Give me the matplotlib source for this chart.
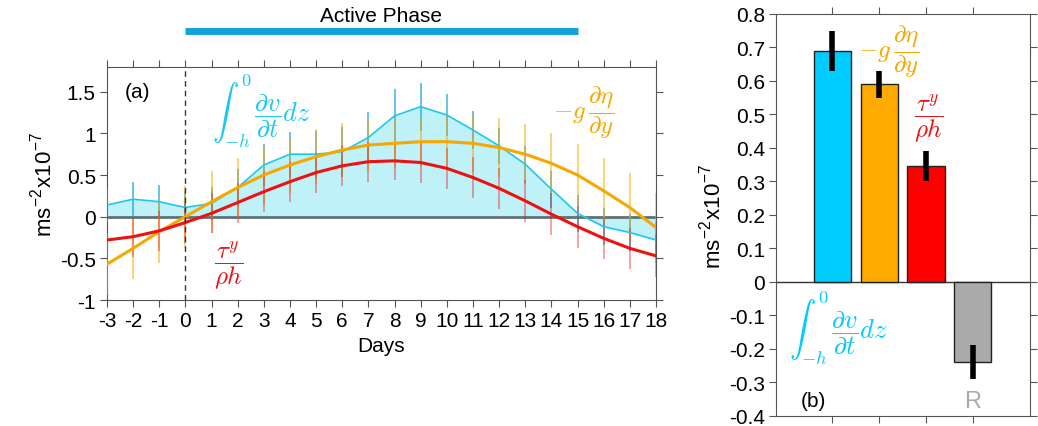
import matplotlib
matplotlib.use("Agg")
import matplotlib.pyplot as plt
import numpy as np

plt.rcParams['font.family'] = ['Liberation Sans', 'DejaVu Sans']
plt.rcParams['mathtext.fontset'] = 'cm'

days = list(range(-3, 19))
dvdt = [0.14, 0.21, 0.18, 0.11, 0.16, 0.35, 0.62, 0.75, 0.75, 0.78, 0.95, 1.21, 1.32, 1.22,
        1.04, 0.85, 0.63, 0.33, 0.04, -0.12, -0.19, -0.28]
dvdt_err = [0.2, 0.21, 0.2, 0.2, 0.2, 0.22, 0.25, 0.27, 0.28, 0.3, 0.31, 0.32, 0.29, 0.25,
            0.23, 0.22, 0.22, 0.22, 0.22, 0.22, 0.22, 0.22]
pgrad = [-0.57, -0.38, -0.18, 0.0, 0.18, 0.35, 0.50, 0.62, 0.72, 0.80, 0.86, 0.88, 0.90, 0.90,
         0.88, 0.83, 0.75, 0.64, 0.50, 0.31, 0.11, -0.13]
pgrad_err = [0.37, 0.37, 0.37, 0.37, 0.37, 0.36, 0.36, 0.34, 0.33, 0.32, 0.3, 0.3, 0.3, 0.32,
             0.34, 0.35, 0.36, 0.36, 0.37, 0.40, 0.41, 0.42]
wind = [-0.28, -0.24, -0.17, -0.07, 0.04, 0.17, 0.30, 0.42, 0.53, 0.61, 0.66, 0.67, 0.65, 0.58,
        0.47, 0.34, 0.19, 0.03, -0.12, -0.26, -0.38, -0.47]
wind_err = [0.24, 0.24, 0.24, 0.24, 0.24, 0.24, 0.24, 0.24, 0.24, 0.24, 0.24, 0.23, 0.25, 0.25,
            0.25, 0.25, 0.25, 0.25, 0.25, 0.25, 0.25, 0.25]

bar_labels = ['dvdt', 'pgrad', 'wind', 'R']
bar_vals = [0.69, 0.59, 0.345, -0.24]
bar_errs = [0.06, 0.04, 0.045, 0.05]

C_CYAN = '#1cc8ee'
C_FILL = '#bff1f8'
C_ORANGE = '#f7a800'
C_RED = '#ee1111'
C_BLUE = '#14a0dc'

INTEGRAL = r'$\int_{-h}^{0}\,\dfrac{\partial v}{\partial t}dz$'
PGRAD = r'$-g\,\dfrac{\partial \eta}{\partial y}$'
WIND = r'$\dfrac{\tau^y}{\rho h}$'

fig = plt.figure(figsize=(10.38, 4.27), dpi=100)

# ---------- panel (a)
ax = fig.add_axes([0.103, 0.295, 0.529, 0.5465])
x = np.array(days)
ax.fill_between(x, dvdt, 0, color=C_FILL, lw=0, zorder=1)
ax.axhline(0, color='#5f7275', lw=2, zorder=2)
ax.errorbar(x, dvdt, yerr=dvdt_err, fmt='none', ecolor=C_BLUE, elinewidth=1.2, alpha=0.75, capsize=0, zorder=3)
ax.errorbar(x, pgrad, yerr=pgrad_err, fmt='none', ecolor=C_ORANGE, elinewidth=1.2, alpha=0.6, capsize=0, zorder=3)
ax.errorbar(x, wind, yerr=wind_err, fmt='none', ecolor=C_RED, elinewidth=1.2, alpha=0.45, capsize=0, zorder=3)
ax.plot(x, dvdt, color=C_CYAN, lw=1.2, zorder=4)
ax.plot(x, pgrad, color=C_ORANGE, lw=2.2, zorder=5)
ax.plot(x, wind, color=C_RED, lw=2.2, zorder=5)
ax.axvline(0, color='#333333', lw=1, ls=(0, (4, 3)), zorder=6)
ax.set_xlim(-3, 18)
ax.set_ylim(-1, 1.8)
ax.set_xticks(days)
ax.set_xticklabels([str(d) for d in days])
ax.set_yticks([-1, -0.5, 0, 0.5, 1, 1.5])
ax.set_yticklabels(['-1', '-0.5', '0', '0.5', '1', '1.5'])
ax.tick_params(direction='out', top=True, right=True, labelsize=15, length=5, color='#555555', pad=3)
for s in ax.spines.values():
    s.set_color('#555555')
ax.set_xlabel('Days', fontsize=15, labelpad=4)
ax.set_ylabel(r'ms$^{\mathregular{-2}}$x10$^{\mathregular{-7}}$', fontsize=16, labelpad=2)
ax.text(-2.3, 1.5, '(a)', fontsize=15, va='center', ha='left')
ax.text(1.0, 1.28, INTEGRAL, color=C_CYAN, fontsize=19, va='center', ha='left')
ax.text(14.06, 1.26, PGRAD, color=C_ORANGE, fontsize=18, va='center', ha='left')
ax.text(1.1, -0.58, WIND, color=C_RED, fontsize=18, va='center', ha='left')
# Active phase bar
ax.plot([0, 15], [2.23, 2.23], color=C_BLUE, lw=5, solid_capstyle='butt', clip_on=False)
ax.text(7.5, 2.42, 'Active Phase', fontsize=15, ha='center', va='center')

# ---------- panel (b)
bx = fig.add_axes([0.748, 0.024, 0.244, 0.941])
pos = np.arange(1, len(bar_vals) + 1)
bcolors = ['#00ccff', '#ffaa00', '#ff0000', '#aaaaaa']
bx.bar(pos, bar_vals, width=0.8, color=bcolors, edgecolor='#222222', lw=1, zorder=2)
bx.errorbar(pos, bar_vals, yerr=bar_errs, fmt='none', ecolor='black', elinewidth=4, capsize=0, zorder=3)
bx.axhline(0, color='#333333', lw=1, zorder=1)
bx.set_xlim(-0.2, 5.22)
bx.set_ylim(-0.4, 0.8)
bx.set_xticks(pos)
bx.set_xticklabels([])
yt = np.round(np.arange(-0.4, 0.81, 0.1), 1)
bx.set_yticks(yt)
bx.set_yticklabels(['0' if abs(v) < 1e-9 else ('%.1f' % v) for v in yt])
bx.tick_params(direction='out', top=True, right=True, labelsize=15, length=5, color='#555555', pad=3)
for s in bx.spines.values():
    s.set_color('#555555')
bx.set_ylabel(r'ms$^{\mathregular{-2}}$x10$^{\mathregular{-7}}$', fontsize=16, labelpad=2)
bx.text(0.32, -0.355, '(b)', fontsize=15, va='center', ha='left')
bx.text(4, -0.355, 'R', fontsize=17, color='#aaaaaa', va='center', ha='center')
bx.text(0.06, -0.135, INTEGRAL, color='#00ccff', fontsize=19, va='center', ha='left')
bx.text(1.54, 0.69, PGRAD, color=C_ORANGE, fontsize=18, va='center', ha='left')
bx.text(3.05, 0.49, WIND, color=C_RED, fontsize=18, va='center', ha='center')

fig.savefig('out.png', dpi=100)
